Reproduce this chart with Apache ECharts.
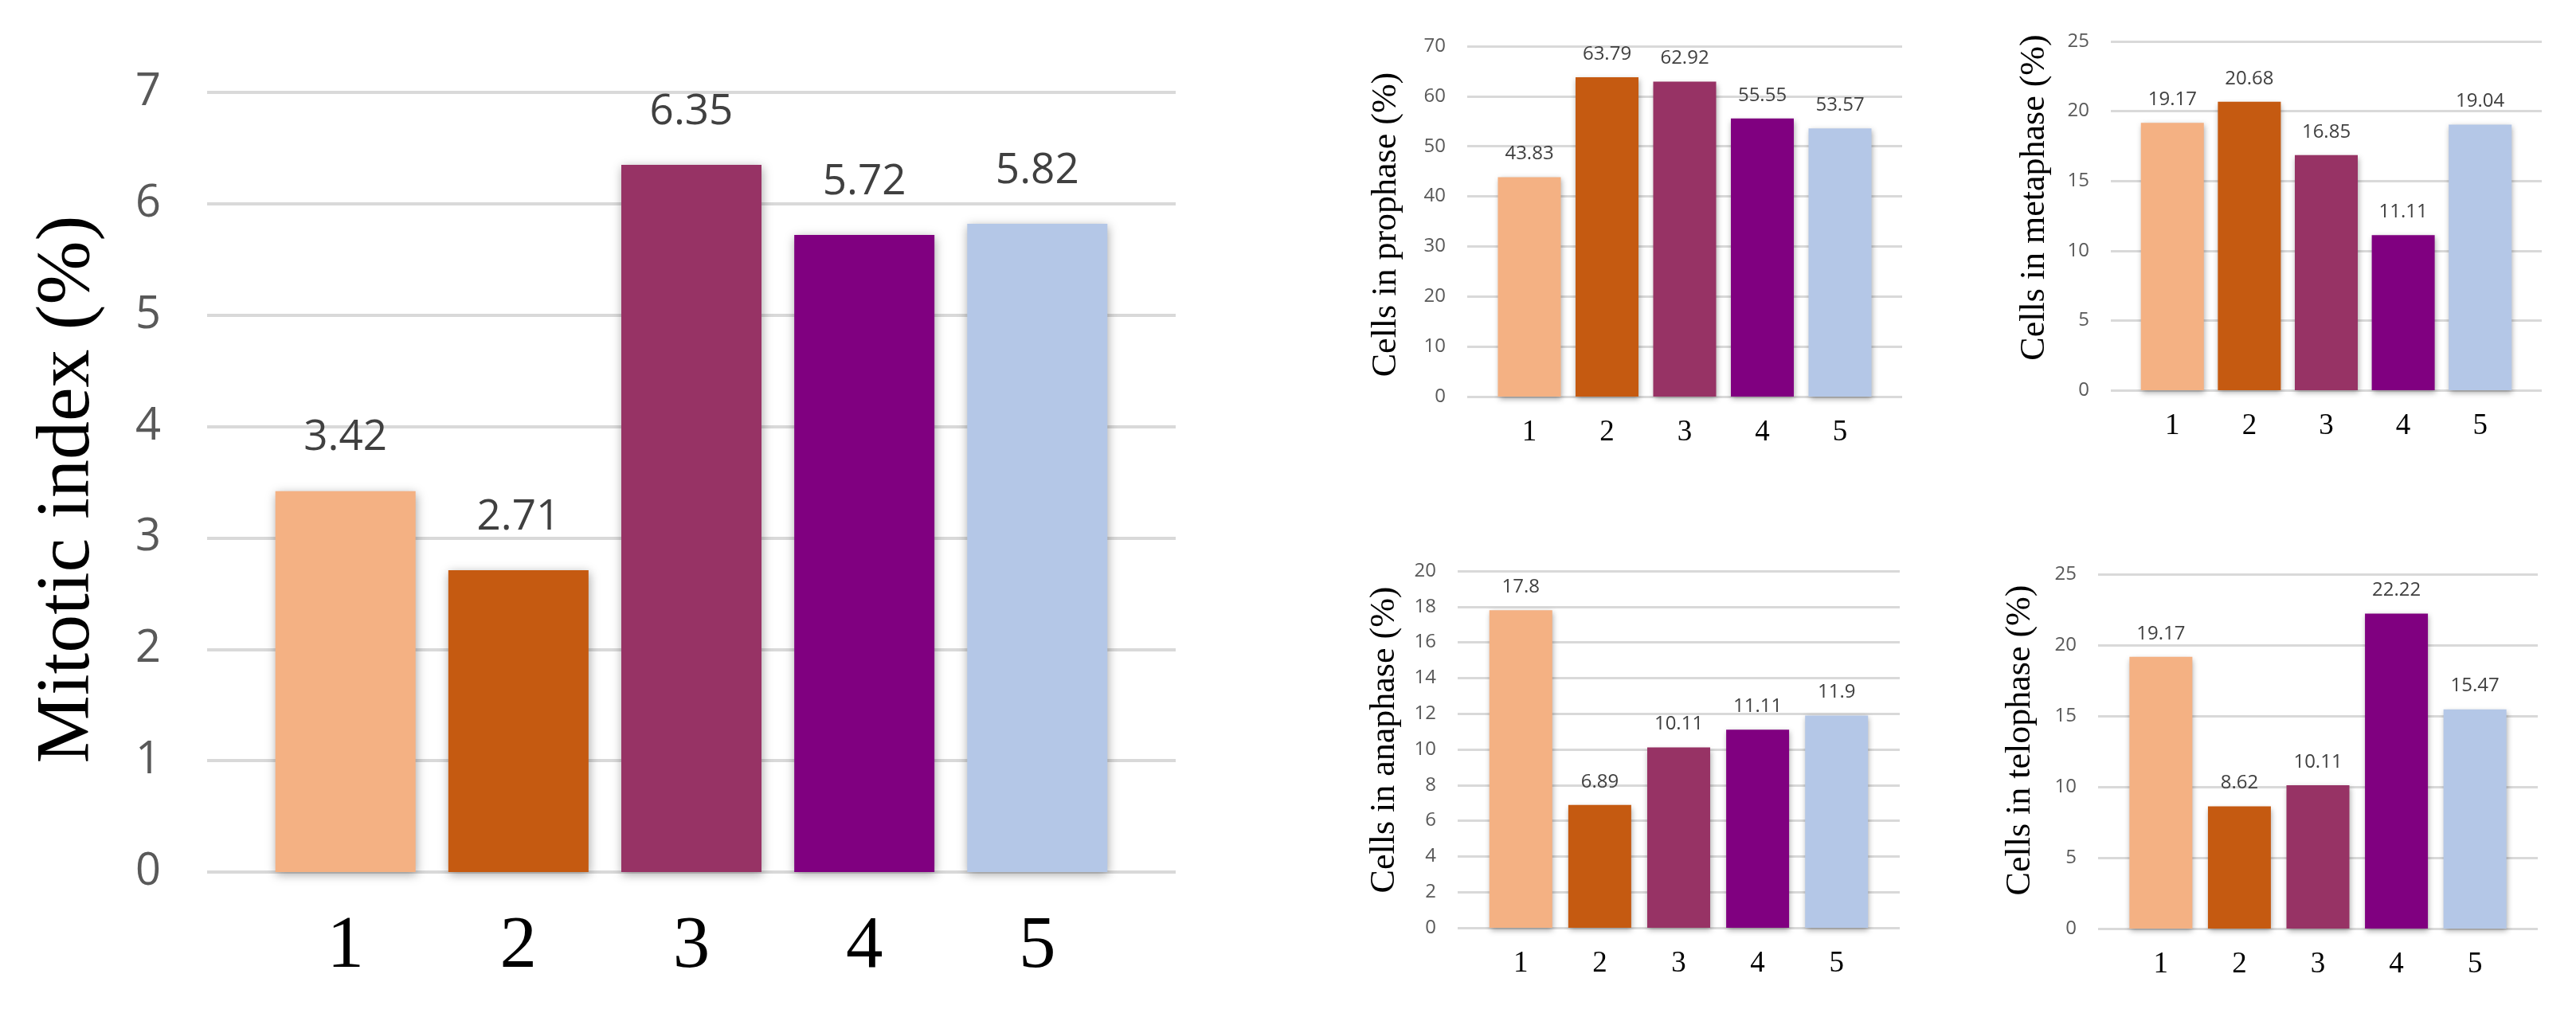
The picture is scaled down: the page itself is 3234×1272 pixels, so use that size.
<!DOCTYPE html>
<html>
<head>
<meta charset="utf-8">
<script src="https://cdn.jsdelivr.net/npm/echarts@6/dist/echarts.min.js"></script>
<style>
html,body{margin:0;padding:0;background:#fff;}
#chart{width:3234px;height:1272px;}
</style>
</head>
<body>
<div id="chart"></div>
<script>
// ---- data ----
const categories = ['1', '2', '3', '4', '5'];
const mitoticIndex = [3.42, 2.71, 6.35, 5.72, 5.82];
const prophase = [43.83, 63.79, 62.92, 55.55, 53.57];
const metaphase = [19.17, 20.68, 16.85, 11.11, 19.04];
const anaphase = [17.8, 6.89, 10.11, 11.11, 11.9];
const telophase = [19.17, 8.62, 10.11, 22.22, 15.47];
const barColors = ['#F4B183', '#C55A11', '#973365', '#800080', '#B4C7E7'];

const panels = [
  {values: mitoticIndex, title: 'Mitotic index (%)', max: 7, interval: 1,
   grid: {left: 260, top: 116, width: 1216, height: 979},
   big: true, nameGap: 126, namePad: [0, 18, 0, 0]},
  {values: prophase, title: 'Cells in prophase (%)', max: 70, interval: 10,
   grid: {left: 1842, top: 58, width: 546, height: 440},
   nameGap: 80, namePad: [0, 8, 0, 0]},
  {values: metaphase, title: 'Cells in metaphase (%)', max: 25, interval: 5,
   grid: {left: 2650, top: 52, width: 541, height: 438},
   nameGap: 74, namePad: [0, 0, 0, 46]},
  {values: anaphase, title: 'Cells in anaphase (%)', max: 20, interval: 2,
   grid: {left: 1830, top: 717, width: 555, height: 448},
   nameGap: 70, namePad: [0, 0, 0, 24]},
  {values: telophase, title: 'Cells in telophase (%)', max: 25, interval: 5,
   grid: {left: 2634, top: 721, width: 552, height: 445},
   nameGap: 76, namePad: [0, 0, 0, 28]}
];

const option = {
  backgroundColor: '#ffffff',
  animation: false,
  grid: [], xAxis: [], yAxis: [], series: []
};

panels.forEach((p, gi) => {
  const big = !!p.big;
  option.grid.push(Object.assign({containLabel: false}, p.grid));
  option.xAxis.push({
    type: 'value', gridIndex: gi, min: 0.2, max: 5.8,
    axisLine: {show: false}, axisTick: {show: false}, splitLine: {show: false},
    axisLabel: {
      customValues: categories.map((c, i) => i + 1),
      formatter: v => categories[Math.round(v) - 1] || '',
      fontFamily: 'Liberation Serif', fontSize: big ? 93 : 37, color: '#000',
      margin: big ? 48 : 27
    }
  });
  option.yAxis.push({
    type: 'value', gridIndex: gi, min: 0, max: p.max, interval: p.interval,
    axisLine: {show: false}, axisTick: {show: false},
    splitLine: {show: true, lineStyle: {color: '#D9D9D9', width: big ? 4 : 3}},
    axisLabel: {fontFamily: 'Open Sans', fontSize: big ? 56 : 24, color: '#595959', margin: big ? 58 : 27},
    name: p.title, nameLocation: 'middle', nameRotate: 90, nameGap: p.nameGap,
    nameTextStyle: {fontFamily: 'Liberation Serif', fontSize: big ? 96 : 44, color: '#000', padding: p.namePad}
  });
  option.series.push({
    type: 'bar', xAxisIndex: gi, yAxisIndex: gi,
    barWidth: big ? 176 : 79,
    data: p.values.map((v, i) => ({value: [i + 1, v], itemStyle: {color: barColors[i]}})),
    itemStyle: {shadowBlur: big ? 12 : 7, shadowColor: 'rgba(0,0,0,0.35)', shadowOffsetX: 1, shadowOffsetY: 3},
    label: {
      show: true, position: 'top', distance: big ? 40 : 17,
      formatter: d => String(d.value[1]),
      fontFamily: 'Open Sans', fontSize: big ? 53 : 24, color: '#404040'
    }
  });
});

const chart = echarts.init(document.getElementById('chart'), null, {renderer: 'canvas'});
chart.setOption(option);
</script>
</body>
</html>
